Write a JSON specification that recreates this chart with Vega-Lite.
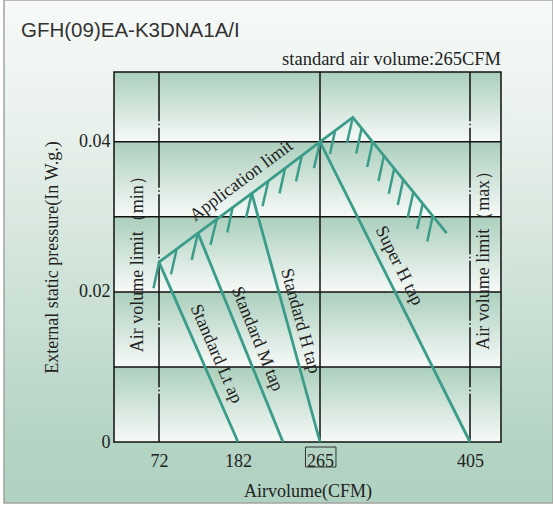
{
  "$schema": "https://vega.github.io/schema/vega-lite/v6.json",
  "width": 549,
  "height": 503,
  "autosize": {"type": "none"},
  "padding": {"left": 4, "top": 0, "right": 0, "bottom": 2},
  "background": "white",
  "view": {
    "fill": {"gradient": "linear", "x1": 0, "y1": 0, "x2": 0, "y2": 1,
      "stops": [{"offset": 0, "color": "#f7faf8"}, {"offset": 0.25, "color": "#e9f1ec"}, {"offset": 0.88, "color": "#b4d4c4"}, {"offset": 1, "color": "#b0d2c1"}]},
    "stroke": "#a3a3a3",
    "strokeWidth": 1.5
  },
  "title": {
    "text": "GFH(09)EA-K3DNA1A/I",
    "anchor": "start",
    "frame": "group",
    "offset": -41,
    "dx": 17,
    "font": "Liberation Sans",
    "fontSize": 20.5,
    "fontWeight": "normal",
    "color": "#333333"
  },
  "config": {
    "text": {"font": "Liberation Serif", "fontSize": 18, "color": "#222222"},
    "axis": {"grid": false, "domain": false, "ticks": false, "tickSize": 0}
  },
  "layer": [
    {
      "data": {"values": [
        {"lo": 0, "hi": 0.01}, {"lo": 0.01, "hi": 0.02}, {"lo": 0.02, "hi": 0.03}, {"lo": 0.03, "hi": 0.04}, {"lo": 0.04, "hi": 0.0493}
      ]},
      "mark": {"type": "rect", "fill": {"gradient": "linear", "x1": 0, "y1": 0, "x2": 0, "y2": 1,
        "stops": [{"offset": 0, "color": "#abcfbd"}, {"offset": 1, "color": "#f7faf8"}]}},
      "encoding": {
        "x": {"datum": 10, "type": "quantitative",
          "scale": {"type": "linear", "domain": [10, 72, 182, 265, 405, 434], "range": [110, 155, 234, 316, 466, 497], "zero": false, "nice": false},
          "axis": {"values": [72, 182, 265, 405], "offset": -61, "domain": false, "ticks": false, "tickSize": 0, "grid": false,
            "labelFlush": false, "labelOverlap": false, "labelPadding": 10, "labelFont": "Liberation Serif", "labelFontSize": 18, "labelColor": "#222222",
            "title": "Airvolume(CFM)", "titleFont": "Liberation Serif", "titleFontSize": 18, "titleFontWeight": "normal", "titleColor": "#222222", "titlePadding": 12}},
        "x2": {"datum": 434},
        "y": {"field": "hi", "type": "quantitative",
          "scale": {"domain": [0, 0.0493], "range": [442, 72], "zero": false, "nice": false},
          "axis": {"values": [0, 0.02, 0.04], "labelExpr": "datum.value == 0 ? '0' : format(datum.value, '.2f')", "offset": -110, "domain": false, "ticks": false, "tickSize": 0, "grid": false,
            "labelPadding": 4, "labelFont": "Liberation Serif", "labelFontSize": 18, "labelColor": "#222222",
            "title": "External static pressure(In W.g.)", "titleFont": "Liberation Serif", "titleFontSize": 18, "titleFontWeight": "normal", "titleColor": "#222222", "titlePadding": 17}},
        "y2": {"field": "lo"}
      }
    },
    {
      "data": {"values": [{"y": 0.01}, {"y": 0.02}, {"y": 0.03}, {"y": 0.04}]},
      "mark": {"type": "rule", "color": "#111111", "strokeWidth": 1.5},
      "encoding": {
        "x": {"datum": 10, "type": "quantitative"},
        "x2": {"datum": 434},
        "y": {"field": "y", "type": "quantitative"}
      }
    },
    {
      "data": {"values": [{"x": 265}]},
      "mark": {"type": "rule", "color": "#111111", "strokeWidth": 1.5},
      "encoding": {
        "x": {"field": "x", "type": "quantitative"},
        "y": {"datum": 0, "type": "quantitative"},
        "y2": {"datum": 0.0493}
      }
    },
    {
      "data": {"values": [{"x": 72}, {"x": 405}]},
      "mark": {"type": "rule", "color": "#111111", "strokeWidth": 1.5, "strokeDash": [60, 2.5, 1.5, 2.5], "strokeDashOffset": 11.75},
      "encoding": {
        "x": {"field": "x", "type": "quantitative"},
        "y": {"datum": 0, "type": "quantitative"},
        "y2": {"datum": 0.0493}
      }
    },
    {
      "data": {"values": [{}]},
      "mark": {"type": "rect", "filled": false, "stroke": "#111111", "strokeWidth": 1.5},
      "encoding": {
        "x": {"datum": 10, "type": "quantitative"},
        "x2": {"datum": 434},
        "y": {"datum": 0, "type": "quantitative"},
        "y2": {"datum": 0.0493}
      }
    },
    {
      "data": {"values": [
        {"s": "limit", "o": 1, "x": 72, "y": 0.02396},
        {"s": "limit", "o": 2, "x": 126.3, "y": 0.02783},
        {"s": "limit", "o": 3, "x": 195.9, "y": 0.03313},
        {"s": "limit", "o": 4, "x": 265, "y": 0.04},
        {"s": "limit", "o": 5, "x": 295.6, "y": 0.04324},
        {"s": "limit", "o": 6, "x": 383.2, "y": 0.02783},
        {"s": "L", "o": 1, "x": 72, "y": 0.02396},
        {"s": "L", "o": 2, "x": 182, "y": 0},
        {"s": "M", "o": 1, "x": 126.3, "y": 0.02783},
        {"s": "M", "o": 2, "x": 227.5, "y": 0},
        {"s": "H", "o": 1, "x": 195.9, "y": 0.03313},
        {"s": "H", "o": 2, "x": 265, "y": 0},
        {"s": "SH", "o": 1, "x": 265, "y": 0.04},
        {"s": "SH", "o": 2, "x": 405, "y": 0}
      ]},
      "mark": {"type": "line", "color": "#3b9d89", "strokeWidth": 2.8},
      "encoding": {
        "x": {"field": "x", "type": "quantitative"},
        "y": {"field": "y", "type": "quantitative"},
        "detail": {"field": "s"},
        "order": {"field": "o"}
      }
    },
    {
      "data": {"values": [
        {"h": 1, "o": 1, "x": 72, "y": 0.02396}, {"h": 1, "o": 2, "x": 64.4, "y": 0.02049},
        {"h": 2, "o": 1, "x": 96.6, "y": 0.02569}, {"h": 2, "o": 2, "x": 88.7, "y": 0.02236},
        {"h": 3, "o": 1, "x": 126.3, "y": 0.02783}, {"h": 3, "o": 2, "x": 117.5, "y": 0.02427},
        {"h": 4, "o": 1, "x": 152.3, "y": 0.02965}, {"h": 4, "o": 2, "x": 143.7, "y": 0.02627},
        {"h": 5, "o": 1, "x": 174.6, "y": 0.03131}, {"h": 5, "o": 2, "x": 167.1, "y": 0.02791},
        {"h": 6, "o": 1, "x": 195.9, "y": 0.03313}, {"h": 6, "o": 2, "x": 190.1, "y": 0.02983},
        {"h": 7, "o": 1, "x": 212.7, "y": 0.03477}, {"h": 7, "o": 2, "x": 206.8, "y": 0.0314},
        {"h": 8, "o": 1, "x": 229.6, "y": 0.03644}, {"h": 8, "o": 2, "x": 224.0, "y": 0.03313},
        {"h": 9, "o": 1, "x": 246.5, "y": 0.03809}, {"h": 9, "o": 2, "x": 240.7, "y": 0.03473},
        {"h": 10, "o": 1, "x": 265, "y": 0.04}, {"h": 10, "o": 2, "x": 258.9, "y": 0.03649},
        {"h": 11, "o": 1, "x": 279.0, "y": 0.04141}, {"h": 11, "o": 2, "x": 274.3, "y": 0.03836},
        {"h": 12, "o": 1, "x": 295.6, "y": 0.04324}, {"h": 12, "o": 2, "x": 290.2, "y": 0.03987},
        {"h": 13, "o": 1, "x": 303.9, "y": 0.04185}, {"h": 13, "o": 2, "x": 298.8, "y": 0.03845},
        {"h": 14, "o": 1, "x": 314.2, "y": 0.04003}, {"h": 14, "o": 2, "x": 309.1, "y": 0.03663},
        {"h": 15, "o": 1, "x": 324.7, "y": 0.03816}, {"h": 15, "o": 2, "x": 319.6, "y": 0.03476},
        {"h": 16, "o": 1, "x": 334.3, "y": 0.03647}, {"h": 16, "o": 2, "x": 329.2, "y": 0.03307},
        {"h": 17, "o": 1, "x": 342.7, "y": 0.03497}, {"h": 17, "o": 2, "x": 337.6, "y": 0.03157},
        {"h": 18, "o": 1, "x": 352.1, "y": 0.03332}, {"h": 18, "o": 2, "x": 346.9, "y": 0.02992},
        {"h": 19, "o": 1, "x": 360.9, "y": 0.03177}, {"h": 19, "o": 2, "x": 355.7, "y": 0.02837},
        {"h": 20, "o": 1, "x": 370.2, "y": 0.03012}, {"h": 20, "o": 2, "x": 365.1, "y": 0.02672}
      ]},
      "mark": {"type": "line", "color": "#3b9d89", "strokeWidth": 2.5},
      "encoding": {
        "x": {"field": "x", "type": "quantitative"},
        "y": {"field": "y", "type": "quantitative"},
        "detail": {"field": "h"},
        "order": {"field": "o"}
      }
    },
    {
      "data": {"values": [{"label": "Application limit", "x": 185.5, "y": 0.0348}]},
      "mark": {"type": "text", "angle": 323.3, "align": "center", "baseline": "middle"},
      "encoding": {"x": {"field": "x", "type": "quantitative"}, "y": {"field": "y", "type": "quantitative"}, "text": {"field": "label"}}
    },
    {
      "data": {"values": [{"label": "Air volume limit（min）", "x": 43.1, "y": 0.02427}, {"label": "Air volume limit（max）", "x": 418.1, "y": 0.0248}]},
      "mark": {"type": "text", "angle": 270, "align": "center", "baseline": "middle"},
      "encoding": {"x": {"field": "x", "type": "quantitative"}, "y": {"field": "y", "type": "quantitative"}, "text": {"field": "label"}}
    },
    {
      "data": {"values": [{"label": "Standard Lt ap", "x": 151.4, "y": 0.01173}]},
      "mark": {"type": "text", "angle": 66.4, "align": "center", "baseline": "middle"},
      "encoding": {"x": {"field": "x", "type": "quantitative"}, "y": {"field": "y", "type": "quantitative"}, "text": {"field": "label"}}
    },
    {
      "data": {"values": [{"label": "Standard M tap", "x": 201.2, "y": 0.01373}]},
      "mark": {"type": "text", "angle": 67.9, "align": "center", "baseline": "middle"},
      "encoding": {"x": {"field": "x", "type": "quantitative"}, "y": {"field": "y", "type": "quantitative"}, "text": {"field": "label"}}
    },
    {
      "data": {"values": [{"label": "Standard H tap", "x": 244.8, "y": 0.01613}]},
      "mark": {"type": "text", "angle": 74.6, "align": "center", "baseline": "middle"},
      "encoding": {"x": {"field": "x", "type": "quantitative"}, "y": {"field": "y", "type": "quantitative"}, "text": {"field": "label"}}
    },
    {
      "data": {"values": [{"label": "Super H tap", "x": 338.7, "y": 0.02347}]},
      "mark": {"type": "text", "angle": 63.5, "align": "center", "baseline": "middle"},
      "encoding": {"x": {"field": "x", "type": "quantitative"}, "y": {"field": "y", "type": "quantitative"}, "text": {"field": "label"}}
    },
    {
      "data": {"values": [{"label": "standard air volume:265CFM", "x": 434, "y": 0.05027}]},
      "mark": {"type": "text", "align": "right", "baseline": "alphabetic", "fontSize": 18.5},
      "encoding": {"x": {"field": "x", "type": "quantitative"}, "y": {"field": "y", "type": "quantitative"}, "text": {"field": "label"}}
    },
    {
      "data": {"values": [{"x1": 250.3, "x2": 279.9, "y1": -0.00067, "y2": -0.00333}]},
      "mark": {"type": "rect", "filled": false, "stroke": "#333333", "strokeWidth": 1},
      "encoding": {
        "x": {"field": "x1", "type": "quantitative"},
        "x2": {"field": "x2"},
        "y": {"field": "y1", "type": "quantitative"},
        "y2": {"field": "y2"}
      }
    }
  ]
}
